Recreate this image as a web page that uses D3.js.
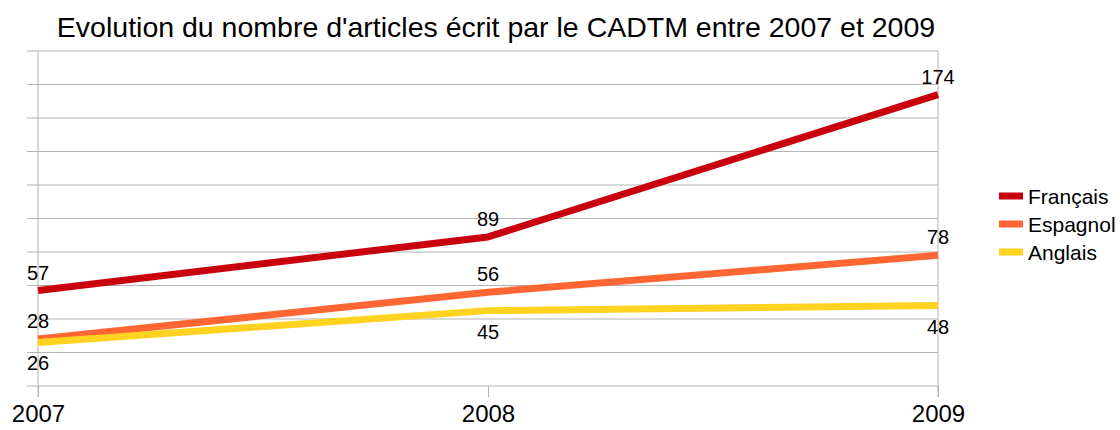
<!DOCTYPE html>
<html lang="fr">
<head>
<meta charset="utf-8">
<title>CADTM</title>
<script src="https://d3js.org/d3.v7.js"></script>
<style>
  body { margin: 0; background: #fff; }
  text { font-family: "Liberation Sans", Arial, sans-serif; fill: #000; }
</style>
</head>
<body>
<div id="chart"></div>
<script>
// data
const years = ["2007", "2008", "2009"];
const seriesNames = ["Français", "Espagnol", "Anglais"];
const francais = [57, 89, 174];
const espagnol = [28, 56, 78];
const anglais = [26, 45, 48];
const yTicks = [0, 20, 40, 60, 80, 100, 120, 140, 160, 180, 200];

const colors = ["#c9000e", "#ff6633", "#ffd320"];
const labelBelow = [false, false, true];

const W = 1120, H = 430;
const svg = d3.select("#chart").append("svg")
  .attr("width", W).attr("height", H);

const x = d3.scalePoint().domain(years).range([38, 938]);
const y = d3.scaleLinear().domain([0, 200]).range([386, 51]);

// title
svg.append("text")
  .attr("x", 496).attr("y", 37)
  .attr("text-anchor", "middle")
  .style("font-size", "28.5px")
  .text("Evolution du nombre d'articles écrit par le CADTM entre 2007 et 2009");

// horizontal grid (ticks go out to the left)
svg.append("g").selectAll("line")
  .data(yTicks)
  .join("line")
  .attr("x1", 27).attr("x2", 938)
  .attr("y1", d => y(d)).attr("y2", d => y(d))
  .attr("stroke", "#b3b3b3").attr("stroke-width", 1);

// left axis and right border
svg.append("line").attr("x1", x("2007")).attr("x2", x("2007"))
  .attr("y1", y(200)).attr("y2", 397)
  .attr("stroke", "#b3b3b3");
svg.append("line").attr("x1", x("2009")).attr("x2", x("2009"))
  .attr("y1", y(200)).attr("y2", 397)
  .attr("stroke", "#b3b3b3");

// x axis
const xAxis = svg.append("g")
  .attr("transform", `translate(0, ${y(0)})`)
  .call(d3.axisBottom(x).tickSize(11).tickPadding(8));
xAxis.select(".domain").remove();
xAxis.selectAll(".tick line").attr("stroke", "#b3b3b3");
xAxis.selectAll(".tick text")
  .style("font-size", "24px")
  .attr("fill", "#000");

const allSeries = [francais, espagnol, anglais];

const line = d3.line()
  .x((d, i) => x(years[i]))
  .y(d => y(d));

// draw the lines
allSeries.forEach((vals, s) => {
  svg.append("path")
    .datum(vals)
    .attr("d", line)
    .attr("fill", "none")
    .attr("stroke", colors[s])
    .attr("stroke-width", 7)
    .attr("stroke-linejoin", "round");
});

// value labels
allSeries.forEach((vals, s) => {
  svg.append("g").selectAll("text")
    .data(vals)
    .join("text")
    .attr("x", (d, i) => x(years[i]))
    .attr("y", d => labelBelow[s] ? y(d) + 28 : y(d) - 11)
    .attr("text-anchor", "middle")
    .style("font-size", "20px")
    .text(d => d);
});

// legend
const legend = svg.append("g");
seriesNames.forEach((name, i) => {
  const cy = 196 + i * 28;
  legend.append("line")
    .attr("x1", 999).attr("x2", 1023)
    .attr("y1", cy).attr("y2", cy)
    .attr("stroke", colors[i]).attr("stroke-width", 7);
  legend.append("text")
    .attr("x", 1028).attr("y", cy + 8)
    .style("font-size", "21px")
    .text(name);
});
</script>
</body>
</html>
